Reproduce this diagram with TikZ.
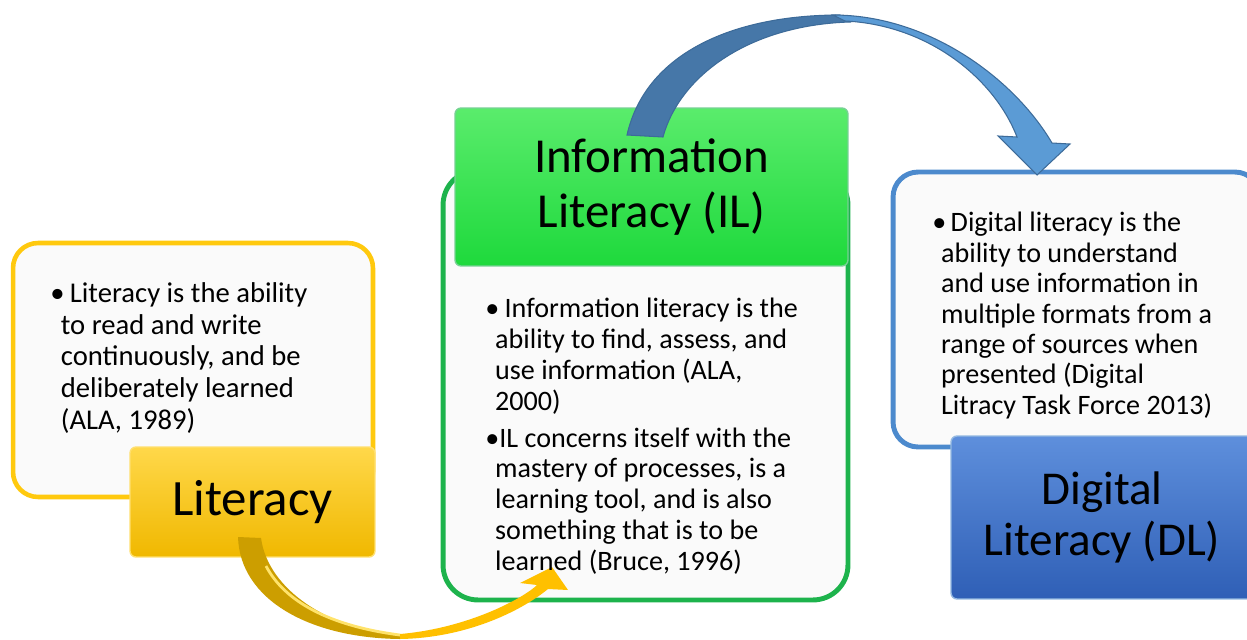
\documentclass[tikz,border=0pt]{standalone}
\usepackage{fontspec}
\setmainfont{Carlito}
\definecolor{litline}{HTML}{FFC90E}
\definecolor{littop}{HTML}{FFD84A}
\definecolor{litbot}{HTML}{F0B800}
\definecolor{illine}{HTML}{1DB34C}
\definecolor{iltop}{HTML}{5AEC6C}
\definecolor{ilbot}{HTML}{1ED93C}
\definecolor{dlline}{HTML}{4C8ACD}
\definecolor{dltop}{HTML}{5E8FDC}
\definecolor{dlbot}{HTML}{2F5FB6}
\definecolor{goldback}{HTML}{CC9E00}
\definecolor{goldfront}{HTML}{FFC000}
\definecolor{goldlight}{HTML}{FFE36B}
\definecolor{blueback}{HTML}{4677A8}
\definecolor{bluefront}{HTML}{5B9BD5}
\definecolor{blueedge}{HTML}{3D6B99}
\newcommand{\hangin}[1]{\hspace*{#1}}
\tikzset{
  panel/.style={draw, line width=2.6pt, fill=white!98!black, rounded corners=0.5cm, inner sep=0pt},
  headbox/.style={draw=#1line!60!white, line width=0.8pt, top color=#1top, bottom color=#1bot,
    rounded corners=0.12cm, inner sep=0pt, align=center},
  bodytext/.style={anchor=north west, inner sep=0pt, align=left},
}
\begin{document}
\begin{tikzpicture}[x=0.02cm, y=-0.02cm]
\useasboundingbox (0,0) rectangle (1247,639);

% panels
\node[panel, draw=litline, minimum width=7.2cm, minimum height=5.08cm] (litbox) at (193,370) {};
\node[panel, draw=illine, line width=2.8pt, rounded corners=0.7cm, minimum width=8.1cm, minimum height=8.6cm] (ilbox) at (645.5,385) {};
\node[panel, draw=dlline, line width=2.8pt, minimum width=7.34cm, minimum height=5.5cm] (dlbox) at (1076.5,309.5) {};

% headers
\node[headbox=lit, minimum width=4.9cm, minimum height=2.2cm, font=\fontsize{29}{31}\selectfont] (lithead) at (252.5,502) {Literacy};
\node[headbox=il, minimum width=7.86cm, minimum height=3.16cm, font=\fontsize{27.8}{31}\selectfont] (ilhead) at (651.5,187) {Information\\Literacy (IL)};
\node[headbox=dl, minimum width=6.04cm, minimum height=3.26cm, font=\fontsize{26.8}{29.5}\selectfont] (dlhead) at (1102,517.5) {Digital\\Literacy (DL)};

% yellow curved arrow
\fill[goldback] (238,537) .. controls (240,600) and (310,638) .. (400,639) -- (400,635) .. controls (330,630) and (268,590) .. (261,538) -- cycle;
\draw[goldlight, line width=1.6pt] (266,566) .. controls (285,602) and (330,626) .. (400,635);
\fill[goldfront] (400,639) .. controls (465,638) and (520,612) .. (548,589) -- (568,590) -- (552,567) -- (520,583) -- (537,585) .. controls (525,597) and (470,628) .. (400,634) -- cycle;

% blue curved arrow
\filldraw[fill=blueback, draw=blueedge, line width=0.6pt] (627,135) .. controls (645,55) and (730,15) .. (840,15) -- (850,22) .. controls (750,25) and (680,75) .. (663,137) -- cycle;
\filldraw[fill=bluefront, draw=blueedge, line width=0.6pt] (833,15) .. controls (930,15) and (1015,80) .. (1052,143) -- (1070,144) -- (1037,175) -- (998,136) -- (1017,137) .. controls (995,80) and (930,25) .. (845,21) -- cycle;

% texts
\node[bodytext, font=\fontsize{16.3}{18.1}\selectfont] (littext) at (50,282) {•\hspace{3pt}Literacy is the ability\\
\hangin{6pt}to read and write\\
\hangin{6pt}continuously, and be\\
\hangin{6pt}deliberately learned\\
\hangin{6pt}(ALA, 1989)};
\node[bodytext, font=\fontsize{16}{17.5}\selectfont] (iltext) at (485,298) {•\hspace{3pt}Information literacy is the\\
\hangin{5.6pt}ability to find, assess, and\\
\hangin{5.6pt}use information (ALA,\\
\hangin{5.6pt}2000)\\[3.5pt]
•IL concerns itself with the\\
\hangin{5.6pt}mastery of processes, is a\\
\hangin{5.6pt}learning tool, and is also\\
\hangin{5.6pt}something that is to be\\
\hangin{5.6pt}learned (Bruce, 1996)};
\node[bodytext, font=\fontsize{16}{17.3}\selectfont] (dltext) at (932,212) {•\hspace{2.5pt}Digital literacy is the\\
\hangin{5pt}ability to understand\\
\hangin{5pt}and use information in\\
\hangin{5pt}multiple formats from a\\
\hangin{5pt}range of sources when\\
\hangin{5pt}presented (Digital\\
\hangin{5pt}Litracy Task Force 2013)};
\end{tikzpicture}
\end{document}
